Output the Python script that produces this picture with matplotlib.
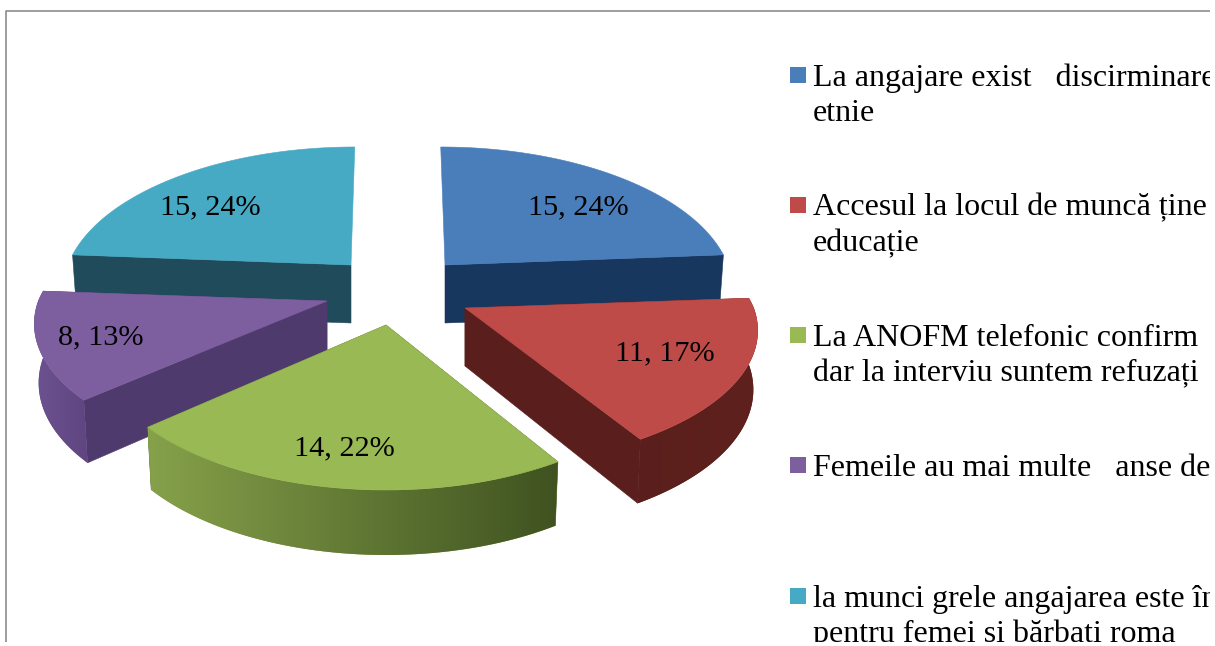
import numpy as np
import matplotlib
matplotlib.use("Agg")
import matplotlib.pyplot as plt
from matplotlib.patches import Polygon, Rectangle
from matplotlib.colors import to_rgb, LinearSegmentedColormap

# ---- data ----
values = [15, 11, 14, 8, 15]
legend_labels = [
    "La angajare exist   discirminare\netnie",
    "Accesul la locul de muncă ține\neducație",
    "La ANOFM telefonic confirm\ndar la interviu suntem refuzați",
    "Femeile au mai multe   anse de",
    "la munci grele angajarea este în\npentru femei și bărbați roma",
]

# ---- styles ----
top_colors = ["#4a7ebb", "#be4b48", "#98b954", "#7d5fa0", "#46aac5"]
radial_colors = ["#17375e", "#5a1f1c", "#4f6228", "#4f3a6e", "#1f4b5a"]
outer_right = ["#17375e", "#5f211d", "#3f5220", "#5f4680", "#1f4b5a"]
outer_left = ["#17375e", "#5a1f1c", "#86a14a", "#6c5290", "#1f4b5a"]
apex = [(445, 265), (465, 308), (386, 325), (327, 301), (351, 265)]
scale_x = [1.0, 1.02, 1.0, 1.02, 1.0]
scale_y = [1.0, 0.96, 1.0, 0.97, 1.0]
label_pos = [(578, 207), (665, 353), (344, 448), (101, 337), (210, 207)]
legend_y = [75, 205, 335, 465, 596]
draw_order = [0, 4, 3, 1, 2]

plt.rcParams["font.family"] = ["Liberation Serif", "DejaVu Serif"]
FS_LABEL = 21.8
FS_LEGEND = 23
W, H = 1210, 642
fig = plt.figure(figsize=(12.15, 6.46), dpi=100, facecolor="white")
ax = fig.add_axes([0, (646 - H) / 646, W / 1215, H / 646])
ax.axis("off")

# frame
ax.plot([5.5, 5.5, W], [H, 10.5, 10.5], color="#8c8c8c", lw=1.2, zorder=1)

A, B, K, CX = 283.0, 137.6, 0.166, 395.0


def project(theta, c, fx, fy):
    u, v = np.sin(theta), -np.cos(theta)
    s = 1 / (1 - K * v)
    x = c[0] + fx * A * u * s + 0.6 * (CX - c[0]) * np.clip(1 - s, 0, None)
    y = c[1] + fy * B * v * s
    return x, y, v


def drop(x, y, v, c):
    d = 58 + 7 * np.clip(v, 0, 1)
    return c[0] + (x - c[0]) * 0.985, y + d


total = sum(values)
edges = np.cumsum([0] + values) / total * 2 * np.pi
z = 2
for i in draw_order:
    c = apex[i]
    th = np.linspace(edges[i], edges[i + 1], 120)
    x, y, v = project(th, c, scale_x[i], scale_y[i])
    bx, by = drop(x, y, v, c)
    cbx, cby = c[0], c[1] + 58
    # radial walls (the ones pointing straight back are not visible)
    for k in (0, -1):
        if v[k] > -0.9:
            ax.add_patch(Polygon([c, (x[k], y[k]), (bx[k], by[k]), (cbx, cby)], closed=True,
                                 fc=radial_colors[i], ec=radial_colors[i], lw=0.4, zorder=z))
    # outer wall with a horizontal shade, clipped to the wall outline; only the near side shows
    front = v > -0.2
    if front.sum() > 1 and v.max() > 0:
        fx_, fy_, fbx, fby = x[front], y[front], bx[front], by[front]
        wall = Polygon(np.vstack([np.c_[fx_, fy_], np.c_[fbx, fby][::-1]]), closed=True,
                       fc=outer_left[i], ec="none", zorder=z)
        ax.add_patch(wall)
        cmap = LinearSegmentedColormap.from_list("w", [to_rgb(outer_left[i]), to_rgb(outer_right[i])])
        im = ax.imshow(np.linspace(0, 1, 256)[None, :], cmap=cmap, aspect="auto",
                       extent=(min(fx_.min(), fbx.min()), max(fx_.max(), fbx.max()),
                               fby.max(), min(fy_.min(), fby.min())),
                       interpolation="bilinear", zorder=z + 0.1)
        im.set_clip_path(wall)
    # top surface
    ax.add_patch(Polygon(np.vstack([[c], np.c_[x, y]]), closed=True,
                         fc=top_colors[i], ec=top_colors[i], lw=0.4, zorder=z + 0.5))
    z += 1

ax.set_xlim(0, W)
ax.set_ylim(H, 0)

for i, (px, py) in enumerate(label_pos):
    pct = round(100 * values[i] / total)
    ax.text(px, py, f"{values[i]}, {pct}%", ha="center", va="center", fontsize=FS_LABEL,
            color="black", zorder=20)

for i, lab in enumerate(legend_labels):
    ax.add_patch(Rectangle((790, legend_y[i] - 8), 16, 16, fc=top_colors[i], ec="none", zorder=20))
    for j, line in enumerate(lab.split("\n")):
        ax.text(813, legend_y[i] + 10.7 + j * 35.7, line, ha="left", va="baseline", fontsize=FS_LEGEND,
                color="black", zorder=20, clip_on=True)

fig.savefig("out.png", dpi=100, facecolor="white")
